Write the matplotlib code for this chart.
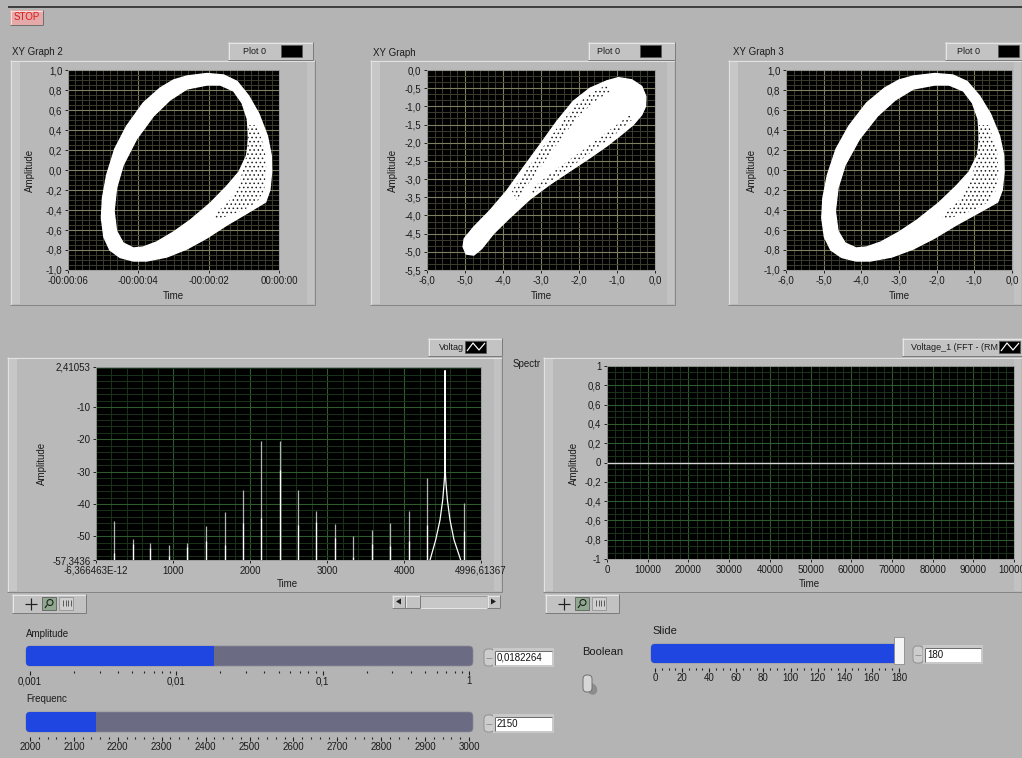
import numpy as np
import matplotlib
matplotlib.use("Agg")
import matplotlib.pyplot as plt
from matplotlib.patches import Rectangle, FancyBboxPatch, PathPatch, Polygon, Ellipse
from matplotlib.path import Path
from matplotlib.ticker import AutoMinorLocator, MultipleLocator, LogLocator, NullFormatter

plt.rcParams["font.family"] = ["Liberation Sans", "DejaVu Sans"]
plt.rcParams["hatch.linewidth"] = 0.6

W, H = 1022, 758
BG = "#b4b4b4"
BLUE = "#1f46e0"
TRACK = "#6b6b84"
TICK_FS = 7

# --- XY graph 2 / XY graph 3 : ring-shaped attractor (outline)
ring_outer_x = [-2.62, -2.05, -1.57, -1.19, -0.86, -0.57, -0.33, -0.22, -0.21, -0.26, -0.38, -0.90,
                -1.48, -2.05, -2.62, -3.19, -3.76, -4.14, -4.52, -4.81, -4.98, -5.05, -5.02, -4.90,
                -4.67, -4.33, -3.86, -3.38, -3.00]
ring_outer_y = [0.94, 0.965, 0.95, 0.885, 0.74, 0.56, 0.34, 0.145, -0.02, -0.20, -0.32, -0.43,
                -0.55, -0.68, -0.79, -0.87, -0.91, -0.91, -0.875, -0.80, -0.67, -0.48, -0.28, -0.05,
                0.21, 0.44, 0.67, 0.82, 0.90]
ring_inner_x = [-2.05, -1.67, -1.29, -1.05, -0.90, -0.86, -0.92, -1.14, -1.48, -1.95, -2.52, -3.00,
                -3.48, -3.86, -4.14, -4.43, -4.62, -4.69, -4.62, -4.43, -4.05, -3.57, -3.10, -2.62]
ring_inner_y = [0.85, 0.85, 0.79, 0.67, 0.51, 0.31, 0.145, -0.02, -0.16, -0.33, -0.50, -0.62,
                -0.72, -0.77, -0.78, -0.73, -0.61, -0.41, -0.18, 0.05, 0.31, 0.54, 0.70, 0.81]
ring_sparse_x = [-0.88, -0.62, -0.40, -0.36, -0.42, -0.62, -1.00, -1.45, -1.90, -1.75, -1.40, -1.15, -0.98, -0.90]
ring_sparse_y = [0.45, 0.45, 0.20, 0.00, -0.20, -0.32, -0.40, -0.46, -0.50, -0.42, -0.30, -0.15, 0.05, 0.20]

# --- XY graph : elongated tail
tail_x = [-1.27, -0.96, -0.61, -0.35, -0.24, -0.25, -0.35, -0.57, -0.88, -1.27, -1.71, -2.23, -2.76,
          -3.29, -3.81, -4.25, -4.56, -4.77, -4.97, -5.05, -5.02, -4.77, -4.34, -3.90, -3.46, -3.02,
          -2.58, -2.15, -1.71]
tail_y = [-0.30, -0.21, -0.27, -0.45, -0.73, -1.00, -1.23, -1.50, -1.77, -2.09, -2.41, -2.77, -3.14,
          -3.55, -4.05, -4.50, -4.91, -5.09, -5.06, -4.86, -4.64, -4.32, -3.86, -3.32, -2.68, -2.05,
          -1.41, -0.86, -0.50]
tail_sparse_a_x = [-3.77, -3.37, -2.95, -2.51, -2.08, -1.64, -1.27, -1.18, -1.58, -1.97, -2.39, -2.80, -3.24, -3.64]
tail_sparse_a_y = [-3.32, -2.73, -2.12, -1.50, -0.95, -0.61, -0.41, -0.59, -0.86, -1.23, -1.77, -2.36, -3.00, -3.57]
tail_sparse_b_x = [-3.20, -2.50, -1.80, -1.10, -0.57, -0.68, -1.23, -1.93, -2.63, -3.29]
tail_sparse_b_y = [-3.41, -2.88, -2.36, -1.82, -1.34, -1.25, -1.68, -2.23, -2.75, -3.30]

# --- axis ticks of the XY graphs
time_ticks = [-6, -4, -2, 0]
time_labels = ["-00:00:06", "-00:00:04", "-00:00:02", "00:00:00"]
x6_ticks = [-6, -5, -4, -3, -2, -1, 0]
x6_labels = ["-6,0", "-5,0", "-4,0", "-3,0", "-2,0", "-1,0", "0,0"]
ring_yticks = [-1.0, -0.8, -0.6, -0.4, -0.2, 0.0, 0.2, 0.4, 0.6, 0.8, 1.0]
ring_ylabels = ["-1,0", "-0,8", "-0,6", "-0,4", "-0,2", "0,0", "0,2", "0,4", "0,6", "0,8", "1,0"]
tail_yticks = [0.0, -0.5, -1.0, -1.5, -2.0, -2.5, -3.0, -3.5, -4.0, -4.5, -5.0, -5.5]
tail_ylabels = ["0,0", "-0,5", "-1,0", "-1,5", "-2,0", "-2,5", "-3,0", "-3,5", "-4,0", "-4,5", "-5,0", "-5,5"]

# --- spectrum (dB)
spike_freq = [229, 476, 706, 948, 1186, 1433, 1671, 1909, 2143, 2385, 2623, 2861, 3100, 3338,
              3584, 3822, 4065, 4299, 4775]
spike_db = [-45.3, -50.9, -52.0, -52.8, -52.0, -46.7, -42.5, -35.7, -20.6, -20.6, -35.7, -42.3,
            -46.2, -50.0, -48.2, -46.0, -42.3, -31.9, -39.7]
spike_low_db = [-55.2, -52.5, -53.5, -56.0, -53.3, -51.5, -52.8, -45.9, -44.3, -29.6, -46.6, -45.6,
                -50.4, -56.5, -52.5, -53.1, -51.4, -46.4, -48.4]
peak_freq = [4335, 4409, 4465, 4500, 4518, 4526, 4530, 4534, 4542, 4560, 4594, 4646, 4733]
peak_db = [-57.3436, -51.1, -44.9, -38.7, -33.5, -30.5, 1.3, -30.5, -33.5, -38.7, -44.9, -51.1, -57.3436]
spec_xticks = [0, 1000, 2000, 3000, 4000, 4996.61367]
spec_xlabels = ["-6,366463E-12", "1000", "2000", "3000", "4000", "4996,61367"]
spec_yticks = [2.41053, -10, -20, -30, -40, -50, -57.3436]
spec_ylabels = ["2,41053", "-10", "-20", "-30", "-40", "-50", "-57,3436"]

# --- FFT graph (flat)
fft_x = [0, 100000]
fft_y = [0, 0]
fft_xticks = [0, 10000, 20000, 30000, 40000, 50000, 60000, 70000, 80000, 90000, 100000]
fft_yticks = [-1, -0.8, -0.6, -0.4, -0.2, 0, 0.2, 0.4, 0.6, 0.8, 1]
fft_ylabels = ["-1", "-0,8", "-0,6", "-0,4", "-0,2", "0", "0,2", "0,4", "0,6", "0,8", "1"]

# --- front panel controls
amp_value = 0.0182264
amp_ticks = [0.001, 0.01, 0.1, 1]
amp_labels = ["0,001", "0,01", "0,1", "1"]
freq_value = 2150
freq_ticks = [2000, 2100, 2200, 2300, 2400, 2500, 2600, 2700, 2800, 2900, 3000]
slide_value = 180
slide_ticks = [0, 20, 40, 60, 80, 100, 120, 140, 160, 180]


fig = plt.figure(figsize=(W / 100, H / 100), dpi=100, facecolor=BG)
bg = fig.add_axes([0, 0, 1, 1])
bg.set_xlim(0, W)
bg.set_ylim(H, 0)
bg.axis("off")


def box(x0, y0, x1, y1, **kw):
    bg.add_patch(Rectangle((x0, y0), x1 - x0, y1 - y0, **kw))


def line(xs, ys, c, lw=1.0):
    bg.plot(xs, ys, color=c, lw=lw * 0.72, solid_capstyle="butt")


def bevel(x0, y0, x1, y1, face, light="#e2e2e2", dark="#868686"):
    box(x0, y0, x1, y1, facecolor=face, edgecolor="none")
    line([x0, x1], [y0 + 0.5, y0 + 0.5], light)
    line([x0 + 0.5, x0 + 0.5], [y0, y1], light)
    line([x0, x1], [y1 - 0.5, y1 - 0.5], dark)
    line([x1 - 0.5, x1 - 0.5], [y0, y1], dark)


def frame(x0, y0, x1, y1):
    bevel(x0, y0, x1, y1, "#b9b9b9")
    box(x0 + 1, y0 + 1, x0 + 10, y1 - 1, facecolor="#c7c7c7", edgecolor="none")
    box(x1 - 8, y0 + 1, x1 - 1, y1 - 1, facecolor="#c2c2c2", edgecolor="none")


def txt(x, y, s, size=7, **kw):
    kw.setdefault("va", "center")
    kw.setdefault("color", "#1c1c1c")
    bg.text(x, y, s, fontsize=size, **kw)


def data_axes(x0, y0, x1, y1):
    return fig.add_axes([x0 / W, 1 - y1 / H, (x1 - x0) / W, (y1 - y0) / H])


def style(ax, major_c, minor_c):
    ax.set_facecolor("black")
    for s in ax.spines.values():
        s.set_color("#9a9a9a")
        s.set_linewidth(0.6)
    ax.tick_params(which="major", direction="out", length=2.5, width=0.7, color="#202020",
                   labelsize=TICK_FS, labelcolor="#1a1a1a", pad=1.5)
    ax.tick_params(which="minor", length=0)
    ax.grid(which="major", color=major_c, lw=0.8)
    ax.grid(which="minor", color=minor_c, lw=0.7)
    ax.set_axisbelow(True)


def ring_patch(ox, oy, ix, iy):
    outer = np.column_stack([ox, oy])
    inner = np.column_stack([ix, iy])

    def area(p):
        return 0.5 * np.sum(p[:, 0] * np.roll(p[:, 1], -1) - np.roll(p[:, 0], -1) * p[:, 1])

    if np.sign(area(outer)) == np.sign(area(inner)):
        inner = inner[::-1]
    verts = np.concatenate([outer, outer[:1], inner, inner[:1]])
    codes = ([Path.MOVETO] + [Path.LINETO] * (len(outer) - 1) + [Path.CLOSEPOLY]
             + [Path.MOVETO] + [Path.LINETO] * (len(inner) - 1) + [Path.CLOSEPOLY])
    return PathPatch(Path(verts, codes), facecolor="white", edgecolor="white", lw=1.0, joinstyle="round")


def sparse_patch(xs, ys):
    # loosely filled part of the cloud: white with fine black specks
    return Polygon(np.column_stack([xs, ys]), closed=True, facecolor="white",
                   edgecolor="#202020", lw=0, hatch="....")


def legend_button(x0, y0, x1, label, sw0, text_x, zigzag=False):
    bevel(x0, y0, x1, y0 + 18, "#c3c3c3", "#e6e6e6", "#7c7c7c")
    txt(text_x, y0 + 9, label, size=6.5, ha="left")
    box(sw0, y0 + 3, sw0 + 21, y0 + 15, facecolor="black", edgecolor="#555555", lw=0.5)
    if zigzag:
        line([sw0 + 2, sw0 + 8, sw0 + 14, sw0 + 20], [y0 + 13, y0 + 5, y0 + 12, y0 + 5], "white", 1.2)


def palette(x0, y0):
    bevel(x0, y0, x0 + 74, y0 + 19, "#c2c2c2", "#e6e6e6", "#7c7c7c")
    line([x0 + 13, x0 + 25], [y0 + 10, y0 + 10], "#202020", 1.2)
    line([x0 + 19, x0 + 19], [y0 + 4, y0 + 16], "#202020", 1.2)
    box(x0 + 30, y0 + 3, x0 + 44, y0 + 16, facecolor="#8fa88f", edgecolor="#505050", lw=0.5)
    bg.add_patch(Ellipse((x0 + 38, y0 + 8.5), 6, 6, facecolor="none", edgecolor="#202020", lw=0.8))
    line([x0 + 35, x0 + 33], [y0 + 11, y0 + 14], "#202020", 1.2)
    box(x0 + 47, y0 + 3, x0 + 61, y0 + 16, facecolor="#cfcfcf", edgecolor="#8a8a8a", lw=0.5)
    for dx in (51, 53.5, 56, 58.5):
        line([x0 + dx, x0 + dx], [y0 + 6, y0 + 12], "#404040", 0.8)


def numeric(sx, y0, bx0, bx1, value):
    bg.add_patch(FancyBboxPatch((sx, y0), 10, 17, boxstyle="round,pad=0,rounding_size=4",
                                facecolor="#cdcdcd", edgecolor="#8a8a8a", lw=0.6))
    line([sx + 2, sx + 8], [y0 + 8.5, y0 + 8.5], "#8a8a8a", 0.8)
    box(bx0 - 2, y0 - 1, bx1 + 2, y0 + 18, facecolor="#c9c9c9", edgecolor="none")
    box(bx0, y0 + 1.5, bx1, y0 + 15.5, facecolor="white", edgecolor="none")
    line([bx0, bx1], [y0 + 1.5, y0 + 1.5], "#6e6e6e", 1)
    line([bx0, bx0], [y0 + 1.5, y0 + 15.5], "#6e6e6e", 1)
    txt(bx0 + 2, y0 + 9, value, ha="left", color="#101010")


def slider(x0, y0, x1, y1, lo, hi, value, ticks, labels, minor, log=False):
    bg.add_patch(FancyBboxPatch((x0 - 4, y0), x1 - x0 + 8, y1 - y0, boxstyle="round,pad=0,rounding_size=4",
                                facecolor=TRACK, edgecolor="#8c8c98", lw=0.5))
    bg.add_patch(FancyBboxPatch((x0 - 4, y0), 10, y1 - y0, boxstyle="round,pad=0,rounding_size=4",
                                facecolor=BLUE, edgecolor="none"))
    ax = data_axes(x0, y0, x1, y1)
    ax.patch.set_visible(False)
    if log:
        ax.set_xscale("log")
    ax.set_xlim(lo, hi)
    ax.set_ylim(0, 1)
    for s in ax.spines.values():
        s.set_visible(False)
    ax.spines["bottom"].set_position(("outward", 3.5))
    ax.set_yticks([])
    ax.barh(0.5, value - lo, left=lo, height=1.0, color=BLUE, zorder=2)
    ax.set_xticks(ticks)
    ax.set_xticklabels(labels)
    ax.xaxis.set_minor_locator(minor)
    ax.xaxis.set_minor_formatter(NullFormatter())
    ax.tick_params(axis="x", which="major", direction="out", length=3, width=0.8, color="#202020",
                   labelsize=TICK_FS, labelcolor="#1a1a1a", pad=1)
    ax.tick_params(axis="x", which="minor", direction="out", length=1.5, width=0.8, color="#202020")
    return ax


# ---------------- panel decorations
line([8, W], [7, 7], "#1a1a1a", 1.5)
bevel(10, 10, 43, 25, "#e4aaaa", "#f4dede", "#707070")
txt(26.5, 17.5, "STOP", ha="center", color="#e01818")

frame(10, 60, 315, 305)
frame(370, 60, 675, 305)
frame(728, 60, 1022, 305)
frame(7, 357, 502, 592)
frame(543, 357, 1022, 592)

txt(12, 52, "XY Graph 2")
txt(373, 53, "XY Graph")
txt(733, 52, "XY Graph 3")
legend_button(228, 42, 313, "Plot 0", 281, 243)
legend_button(588, 42, 675, "Plot 0", 640, 597)
legend_button(945, 42, 1022, "Plot 0", 998, 957)
legend_button(428, 338, 502, "Voltag", 465, 439, zigzag=True)
legend_button(902, 338, 1024, "Voltage_1 (FFT - (RM", 999, 911, zigzag=True)
txt(513, 364, "Spectr")

for cx in (30, 393, 752):
    txt(cx, 170, "Amplitude", rotation=90, ha="center")
for cx in (173, 541, 899):
    txt(cx, 296, "Time", ha="center")
txt(42, 463, "Amplitude", rotation=90, ha="center")
txt(574, 463, "Amplitude", rotation=90, ha="center")
txt(287, 584, "Time", ha="center")
txt(809, 584, "Time", ha="center")

palette(12, 594)
palette(545, 594)

# scrollbar under the spectrum
bevel(392, 595, 500, 608, "#c8c8c8", "#9a9a9a", "#e4e4e4")
bevel(392, 595, 405, 608, "#c3c3c3", "#e6e6e6", "#7c7c7c")
bevel(405, 595, 420, 608, "#c3c3c3", "#e6e6e6", "#7c7c7c")
bevel(487, 595, 500, 608, "#c3c3c3", "#e6e6e6", "#7c7c7c")
bg.add_patch(Polygon([[396, 601.5], [401, 598.5], [401, 604.5]], facecolor="#202020"))
bg.add_patch(Polygon([[496, 601.5], [491, 598.5], [491, 604.5]], facecolor="#202020"))

# controls
txt(26, 634, "Amplitude")
txt(26, 699, "Frequenc")
txt(652, 631, "Slide", size=8)
txt(582, 652, "Boolean", size=8)
numeric(484, 649, 495, 552, "0,0182264")
numeric(484, 715, 495, 552, "2150")
numeric(913, 646, 925, 981, "180")
bg.add_patch(Ellipse((592, 689), 10, 12, angle=-30, facecolor="#8c8c8c", edgecolor="none"))
bg.add_patch(FancyBboxPatch((583, 675), 9, 17, boxstyle="round,pad=0,rounding_size=4",
                            facecolor="#d6d6d6", edgecolor="#707070", lw=0.7))

# ---------------- XY Graph 2
ax1 = data_axes(68, 70, 279, 270)
style(ax1, "#7f7f62", "#3c3c2e")
ax1.set_xlim(-6, 0)
ax1.set_ylim(-1, 1)
ax1.set_xticks(time_ticks)
ax1.set_xticklabels(time_labels)
ax1.set_yticks(ring_yticks)
ax1.set_yticklabels(ring_ylabels)
ax1.xaxis.set_minor_locator(AutoMinorLocator(10))
ax1.yaxis.set_minor_locator(AutoMinorLocator(4))
ax1.add_patch(ring_patch(ring_outer_x, ring_outer_y, ring_inner_x, ring_inner_y))
ax1.add_patch(sparse_patch(ring_sparse_x, ring_sparse_y))

# ---------------- XY Graph
ax2 = data_axes(427, 70, 655, 270)
style(ax2, "#7f7f62", "#3c3c2e")
ax2.set_xlim(-6, 0)
ax2.set_ylim(-5.5, 0)
ax2.set_xticks(x6_ticks)
ax2.set_xticklabels(x6_labels)
ax2.set_yticks(tail_yticks)
ax2.set_yticklabels(tail_ylabels)
ax2.xaxis.set_minor_locator(AutoMinorLocator(5))
ax2.yaxis.set_minor_locator(AutoMinorLocator(3))
ax2.add_patch(Polygon(np.column_stack([tail_x, tail_y]), closed=True, facecolor="white",
                      edgecolor="white", lw=1.0, joinstyle="round"))
ax2.add_patch(sparse_patch(tail_sparse_a_x, tail_sparse_a_y))
ax2.add_patch(sparse_patch(tail_sparse_b_x, tail_sparse_b_y))

# ---------------- XY Graph 3
ax3 = data_axes(786, 70, 1012, 270)
style(ax3, "#7f7f62", "#3c3c2e")
ax3.set_xlim(-6, 0)
ax3.set_ylim(-1, 1)
ax3.set_xticks(x6_ticks)
ax3.set_xticklabels(x6_labels)
ax3.set_yticks(ring_yticks)
ax3.set_yticklabels(ring_ylabels)
ax3.xaxis.set_minor_locator(AutoMinorLocator(5))
ax3.yaxis.set_minor_locator(AutoMinorLocator(4))
ax3.add_patch(ring_patch(ring_outer_x, ring_outer_y, ring_inner_x, ring_inner_y))
ax3.add_patch(sparse_patch(ring_sparse_x, ring_sparse_y))

# ---------------- spectrum
ax4 = data_axes(96, 367, 481, 560)
style(ax4, "#2f5a2f", "#1a331a")
ax4.set_xlim(spec_xticks[0], spec_xticks[-1])
ax4.set_ylim(spec_yticks[-1], spec_yticks[0])
ax4.set_xticks(spec_xticks)
ax4.set_xticklabels(spec_xlabels)
ax4.set_yticks(spec_yticks)
ax4.set_yticklabels(spec_ylabels)
ax4.xaxis.set_minor_locator(MultipleLocator(200))
ax4.yaxis.set_minor_locator(MultipleLocator(2))
ax4.vlines(spike_freq, spec_yticks[-1], spike_db, colors="#b4b4b4", lw=0.9)
ax4.vlines(spike_freq, spec_yticks[-1], spike_low_db, colors="white", lw=0.9)
ax4.plot(peak_freq, peak_db, color="white", lw=0.9)

# ---------------- FFT graph
ax5 = data_axes(607, 366, 1014, 559)
style(ax5, "#2f5a2f", "#1a331a")
ax5.set_xlim(fft_xticks[0], fft_xticks[-1])
ax5.set_ylim(-1, 1)
ax5.set_xticks(fft_xticks)
ax5.set_xticklabels([str(v) for v in fft_xticks])
ax5.set_yticks(fft_yticks)
ax5.set_yticklabels(fft_ylabels)
ax5.xaxis.set_minor_locator(AutoMinorLocator(5))
ax5.yaxis.set_minor_locator(AutoMinorLocator(3))
ax5.plot(fft_x, fft_y, color="#d6d6d6", lw=1.0)

# ---------------- sliders
slider(30, 646, 469, 666, 0.001, 1, amp_value, amp_ticks, amp_labels,
       LogLocator(base=10, subs=np.arange(2, 10)), log=True)
slider(30, 712, 469, 732, 2000, 3000, freq_value, freq_ticks, [str(v) for v in freq_ticks],
       MultipleLocator(20))
sax = slider(655, 644, 899, 663, 0, 180, slide_value, slide_ticks, [str(v) for v in slide_ticks],
             MultipleLocator(5))
sax.add_patch(Rectangle((slide_value - 3.8, -0.05), 7.6, 1.4, facecolor="#f4f4f4",
                        edgecolor="#8c8c8c", lw=0.6, clip_on=False, zorder=3))

fig.savefig("out.png", dpi=100, facecolor=BG)
